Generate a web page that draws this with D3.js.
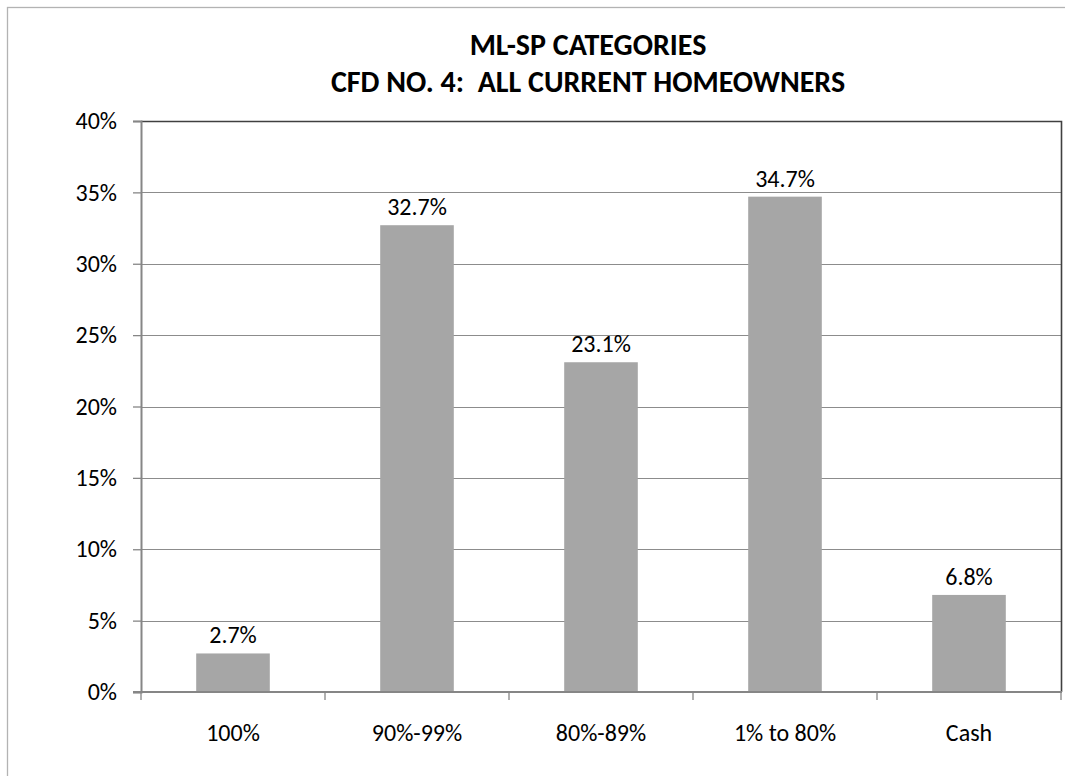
<!DOCTYPE html>
<html>
<head>
<meta charset="utf-8">
<script src="https://cdn.jsdelivr.net/npm/d3@7"></script>
<style>
  html, body { margin: 0; padding: 0; background: #fff; }
  svg { display: block; }
  text { font-family: Carlito, Calibri, Lato, sans-serif; fill: #000; white-space: pre; }
</style>
</head>
<body>
<svg id="chart" width="1065" height="776"></svg>
<script>
// Mortgage loan-to-value categories and share of homeowners
const categories = ["100%", "90%-99%", "80%-89%", "1% to 80%", "Cash"];
const shares = [2.7, 32.7, 23.1, 34.7, 6.8];
const yTicks = [0, 5, 10, 15, 20, 25, 30, 35, 40];
const titleLines = ["ML-SP CATEGORIES", "CFD NO. 4:  ALL CURRENT HOMEOWNERS"];

const svg = d3.select("#chart");
const plot = { left: 141, right: 1061, top: 121, bottom: 692 };
const labelSize = 24;

// Outer chart frame (extends past the right and bottom edges)
svg.append("rect")
  .attr("x", 7.5).attr("y", 7.5)
  .attr("width", 1080).attr("height", 800)
  .attr("fill", "#fff")
  .attr("stroke", "#b3b3b3").attr("stroke-width", 1.3);

const x = d3.scaleBand()
  .domain(categories)
  .range([plot.left, plot.right])
  .paddingInner(0.6)
  .paddingOuter(0.3);

const y = d3.scaleLinear()
  .domain([0, 40])
  .range([plot.bottom, plot.top]);

// Horizontal gridlines
svg.append("g")
  .selectAll("line")
  .data(yTicks.filter(t => t > 0 && t < 40))
  .join("line")
  .attr("x1", plot.left).attr("x2", plot.right)
  .attr("y1", d => Math.round(y(d)) + 0.5).attr("y2", d => Math.round(y(d)) + 0.5)
  .attr("stroke", "#8c8c8c").attr("stroke-width", 1);

// Bars
svg.append("g")
  .selectAll("rect")
  .data(shares)
  .join("rect")
  .attr("x", (d, i) => x(categories[i]))
  .attr("width", x.bandwidth())
  .attr("y", d => y(d))
  .attr("height", d => y(0) - y(d))
  .attr("fill", "#a6a6a6");

// Plot border: top and right edges
svg.append("path")
  .attr("d", `M${plot.left},${plot.top + 0.5}H${plot.right + 0.5}V${plot.bottom}`)
  .attr("fill", "none")
  .attr("stroke", "#404040").attr("stroke-width", 1.6);

// Left value axis
const yAxis = d3.axisLeft(y)
  .tickValues(yTicks)
  .tickSize(8)
  .tickPadding(16)
  .tickFormat(d => d + "%");
const gy = svg.append("g")
  .attr("transform", `translate(${plot.left},0)`)
  .call(yAxis);
gy.select(".domain").attr("stroke", "#868686").attr("stroke-width", 2);
gy.selectAll(".tick line").attr("stroke", "#868686").attr("stroke-width", 1.3);
gy.selectAll(".tick text")
  .attr("font-size", labelSize)
  .attr("font-family", "Carlito, Calibri, Lato, sans-serif")
  .attr("fill", "#000");

// Bottom category axis with ticks between categories
const boundaries = d3.range(categories.length + 1)
  .map(i => plot.left + i * x.step());
svg.append("line")
  .attr("x1", plot.left - 8).attr("x2", plot.right + 1)
  .attr("y1", plot.bottom).attr("y2", plot.bottom)
  .attr("stroke", "#868686").attr("stroke-width", 2);
svg.append("g")
  .selectAll("line")
  .data(boundaries)
  .join("line")
  .attr("x1", d => d).attr("x2", d => d)
  .attr("y1", plot.bottom).attr("y2", plot.bottom + 8)
  .attr("stroke", "#868686").attr("stroke-width", 1.3);

svg.append("g")
  .selectAll("text")
  .data(categories)
  .join("text")
  .attr("x", d => x(d) + x.bandwidth() / 2)
  .attr("y", 741)
  .attr("text-anchor", "middle")
  .attr("font-size", labelSize)
  .text(d => d);

// Value labels above bars
svg.append("g")
  .selectAll("text")
  .data(shares)
  .join("text")
  .attr("x", (d, i) => x(categories[i]) + x.bandwidth() / 2)
  .attr("y", d => y(d) - 10)
  .attr("text-anchor", "middle")
  .attr("font-size", labelSize)
  .text(d => d.toFixed(1) + "%");

// Title
svg.append("g")
  .selectAll("text")
  .data(titleLines)
  .join("text")
  .attr("x", 588)
  .attr("y", (d, i) => 55 + i * 37)
  .attr("text-anchor", "middle")
  .attr("font-size", 30)
  .attr("font-weight", "bold")
  .text(d => d);
</script>
</body>
</html>
